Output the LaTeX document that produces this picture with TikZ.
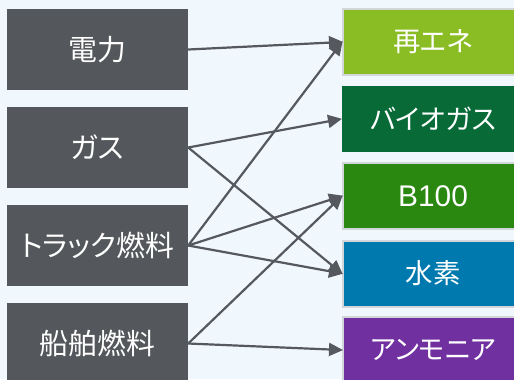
\documentclass[tikz,border=0pt]{standalone}
\usepackage{fontspec}
\setmainfont[RawFeature=+palt]{Noto Sans CJK JP}
\newfontfamily\latinf{Liberation Sans}
\usetikzlibrary{arrows.meta}
\definecolor{bgc}{HTML}{F0F8FD}
\definecolor{srcc}{HTML}{54575B}
\definecolor{linec}{HTML}{55585C}
\definecolor{bordc}{HTML}{D2D6D9}
\definecolor{c1}{HTML}{8ABD24}
\definecolor{c2}{HTML}{076A37}
\definecolor{c3}{HTML}{2A870F}
\definecolor{c4}{HTML}{0079AE}
\definecolor{c5}{HTML}{7030A0}
\tikzset{
  srcbox/.style={fill=srcc, draw=none, minimum width=181bp, minimum height=81bp, inner sep=0pt, text=white, font=\fontsize{29}{32}\selectfont},
  dstbox/.style={draw=bordc, line width=2bp, minimum width=180bp, minimum height=66bp, inner sep=0pt, text=white, font=\fontsize{27.5}{32}\selectfont},
  link/.style={draw=linec, line width=2.2bp, -{Triangle[length=14bp,width=13bp]}, shorten >=-1bp}
}
\begin{document}
\begin{tikzpicture}[x=1bp,y=-1bp]
\useasboundingbox (0,0) rectangle (514,379);
\clip (0,0) rectangle (514,379);
\fill[bgc] (0,0) rectangle (514,379);
\node[srcbox] (den) at (97.5,49.5) {電力};
\node[srcbox] (gas) at (97.5,147.5) {ガス};
\node[srcbox] (truck) at (97.5,245.5) {トラック燃料};
\node[srcbox] (ship) at (97.5,343.5) {船舶燃料};
\node[dstbox, fill=c1] (re) at (433,42) {再エネ};
\node[dstbox, fill=c2, draw=none, minimum width=182bp] (bio) at (433,119) {バイオガス};
\node[dstbox, fill=c3] (b100) at (433,196) {\latinf\fontsize{30}{32}\selectfont B100};
\node[dstbox, fill=c4] (h2) at (433,273.5) {水素};
\node[dstbox, fill=c5] (nh3) at (433,350) {アンモニア};
\draw[link] (den.east) -- (re.west);
\draw[link] (gas.east) -- (bio.west);
\draw[link] (gas.east) -- (h2.west);
\draw[link] (truck.east) -- (re.west);
\draw[link] (truck.east) -- (b100.west);
\draw[link] (truck.east) -- (h2.west);
\draw[link] (ship.east) -- (b100.west);
\draw[link] (ship.east) -- (nh3.west);
\end{tikzpicture}
\end{document}
